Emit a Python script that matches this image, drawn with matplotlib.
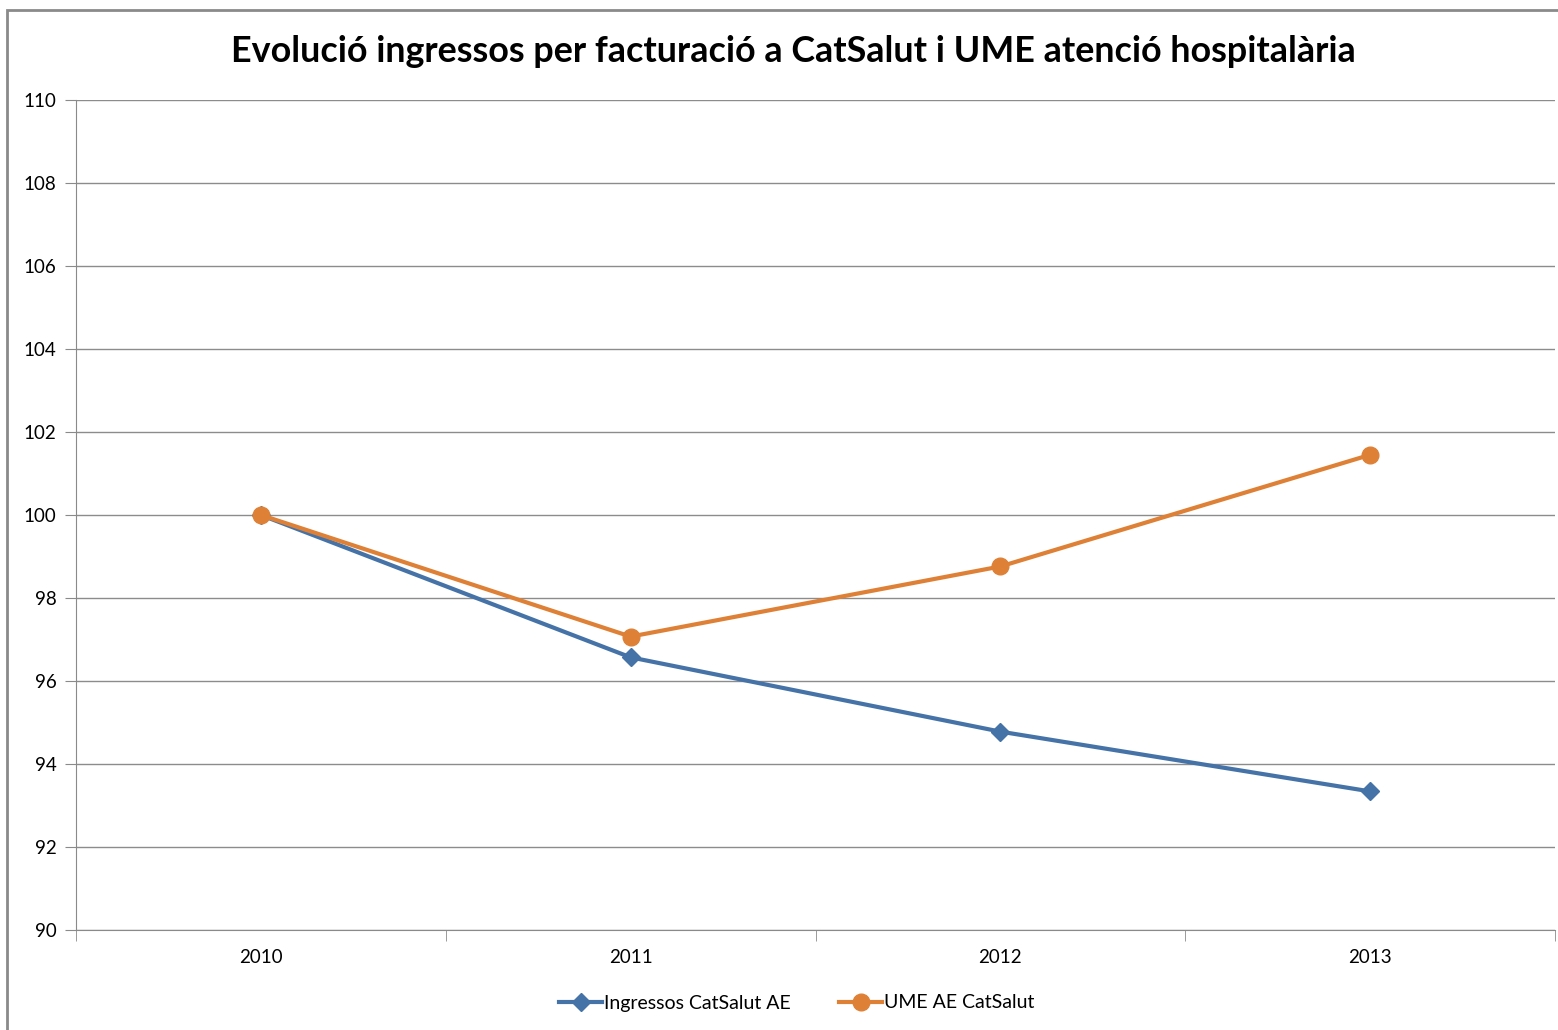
import matplotlib.pyplot as plt
from matplotlib.patches import Rectangle

years = ['2010', '2011', '2012', '2013']
ingressos = [100.0, 96.57, 94.78, 93.34]
ume = [100.0, 97.07, 98.76, 101.45]

plt.rcParams['font.family'] = ['Lato', 'DejaVu Sans']

fig = plt.figure(figsize=(15.58, 10.30), dpi=100)
ax = fig.add_axes([76 / 1558, 1 - 930 / 1030, (1555 - 76) / 1558, 830 / 1030])

# outer chart border (Excel style)
fig.patches.append(Rectangle((7 / 1558, -0.01), 1.05, 1 - 10 / 1030 + 0.01,
                             transform=fig.transFigure, fill=False,
                             edgecolor='#8a8a8a', lw=2, clip_on=False))

x = range(len(years))
ax.plot(x, ingressos, color='#4573a7', lw=3, marker='D', markersize=9,
        label='Ingressos CatSalut AE', zorder=3)
ax.plot(x, ume, color='#de8137', lw=3, marker='o', markersize=12,
        label='UME AE CatSalut', zorder=3)

ax.set_xlim(-0.5, 3.5)
ax.set_ylim(90, 110)
ax.set_yticks(range(90, 111, 2))
ax.set_xticks(list(x))
ax.set_xticklabels(years)
ax.set_xticks([-0.5, 0.5, 1.5, 2.5, 3.5], minor=True)
ax.tick_params(axis='x', which='major', length=0, pad=14, labelsize=13.5)
ax.tick_params(axis='x', which='minor', length=8, color='#8a8a8a')
ax.tick_params(axis='y', length=8, color='#8a8a8a', pad=6, labelsize=13.5)

ax.grid(axis='y', color='#8c8c8c', lw=1)
ax.set_axisbelow(True)
for side in ['top', 'right']:
    ax.spines[side].set_visible(False)
for side in ['left', 'bottom']:
    ax.spines[side].set_color('#8a8a8a')

fig.text(793 / 1558, 1 - 52 / 1030, 'Evolució ingressos per facturació a CatSalut i UME atenció hospitalària',
         ha='center', va='center', fontsize=25.8, fontweight='bold')

fig.legend(loc='center', bbox_to_anchor=(797 / 1558, 1 - 1003 / 1030), ncol=2,
           frameon=False, fontsize=14, handlelength=2.2, handletextpad=0.1,
           columnspacing=2.5)

fig.savefig('out.png', dpi=100)
